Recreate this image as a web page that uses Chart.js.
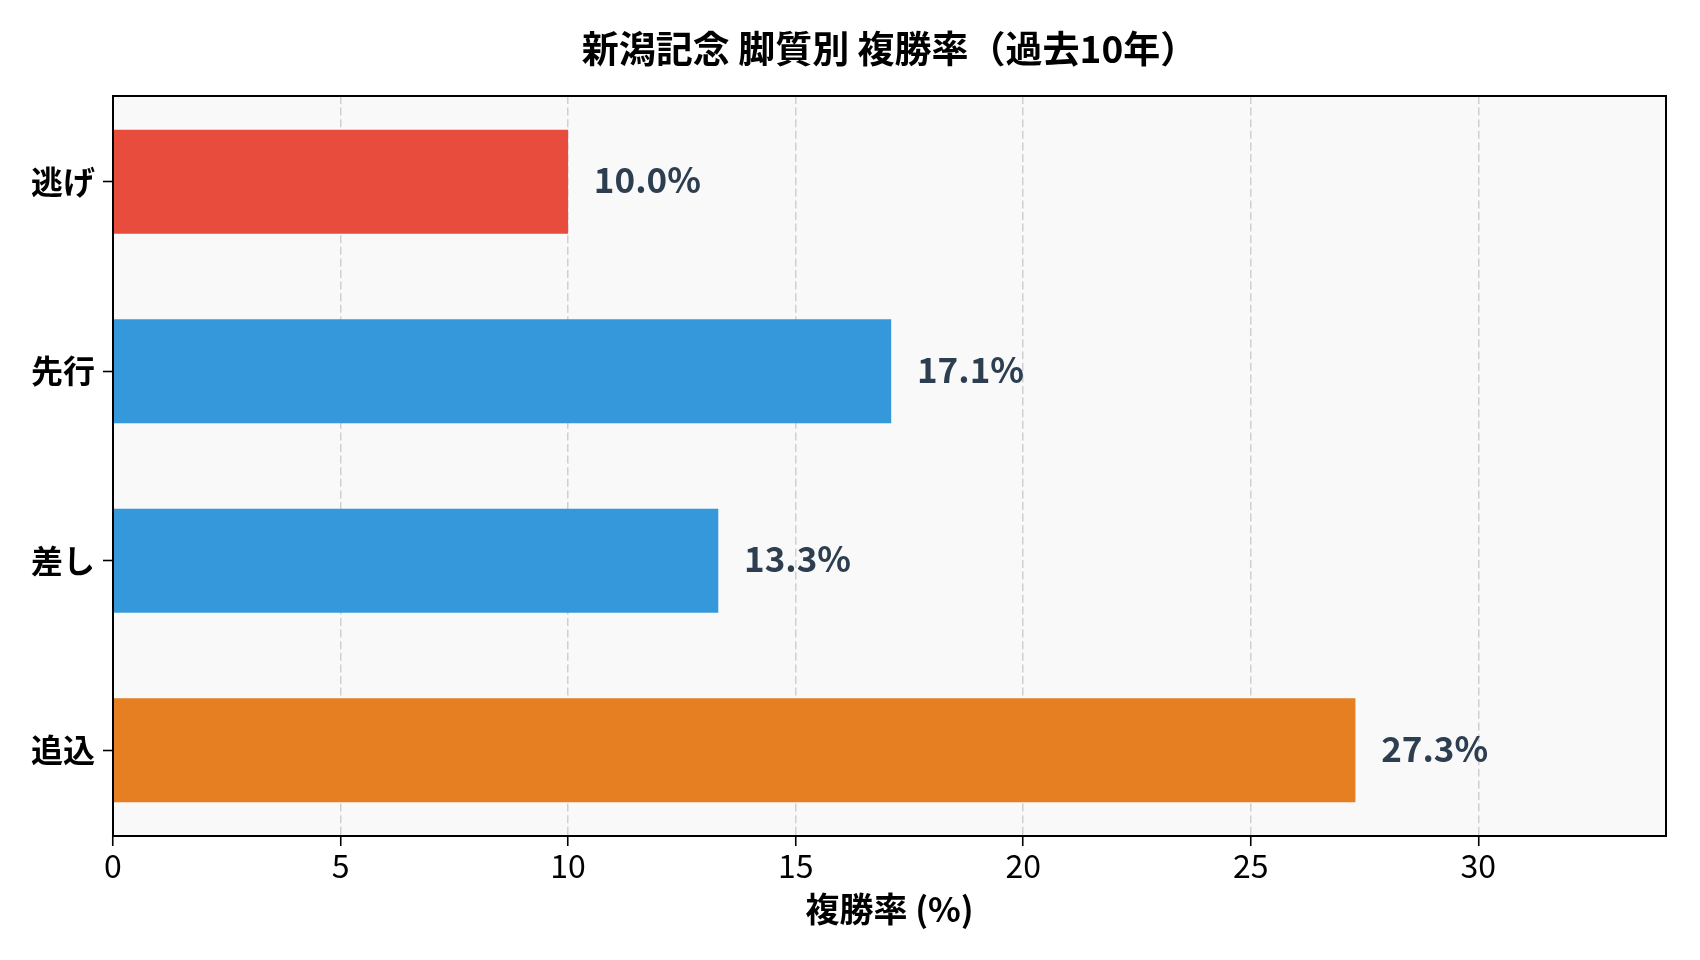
<!DOCTYPE html>
<html>
<head>
<meta charset="utf-8">
<script src="https://cdn.jsdelivr.net/npm/chart.js@4.4.1/dist/chart.umd.min.js"></script>
<style>
  html, body { margin: 0; padding: 0; background: #ffffff; }
</style>
</head>
<body>
<canvas id="rateChart" width="1700" height="960"></canvas>
<script>
// 新潟記念 脚質別 複勝率
var TITLE      = '新潟記念 脚質別 複勝率（過去10年）';
var X_LABEL    = '複勝率 (%)';
var CATEGORIES = ['逃げ', '先行', '差し', '追込'];
var RATES      = [10.0, 17.1, 13.3, 27.3];
var BAR_COLORS = ['#e74c3c', '#3498db', '#3498db', '#e67e22'];
var X_TICKS    = [0, 5, 10, 15, 20, 25, 30];
var X_MAX      = 34.125;

var FONT = "'Noto Sans CJK JP', 'Noto Sans', sans-serif";
Chart.defaults.font.family = FONT;
Chart.defaults.color = '#000000';

// plot background, frame, title and value labels
var framePlugin = {
  id: 'frame',
  beforeDraw: function (chart) {
    var a = chart.chartArea, ctx = chart.ctx;
    ctx.save();
    ctx.fillStyle = '#f9f9f9';
    ctx.fillRect(a.left, a.top, a.right - a.left, a.bottom - a.top);
    ctx.restore();
  },
  afterDatasetsDraw: function (chart) {
    var a = chart.chartArea, ctx = chart.ctx;
    var xs = chart.scales.x;
    ctx.save();
    // value labels
    ctx.font = 'bold 35px ' + FONT;
    ctx.fillStyle = '#2c3e50';
    ctx.textAlign = 'left';
    ctx.textBaseline = 'middle';
    chart.getDatasetMeta(0).data.forEach(function (bar, i) {
      ctx.fillText(RATES[i].toFixed(1) + '%', xs.getPixelForValue(RATES[i] + 0.5) + 3, bar.y - 2);
    });
    // frame
    ctx.strokeStyle = '#000000';
    ctx.lineWidth = 2;
    ctx.strokeRect(a.left, a.top, a.right - a.left, a.bottom - a.top);
    // title
    ctx.font = 'bold 37px ' + FONT;
    ctx.fillStyle = '#000000';
    ctx.textAlign = 'center';
    ctx.fillText(TITLE, (a.left + a.right) / 2, 49);
    ctx.restore();
  }
};

new Chart(document.getElementById('rateChart').getContext('2d'), {
  type: 'bar',
  data: {
    datasets: [{
      data: RATES.map(function (v, i) { return { x: v, y: i }; }),
      backgroundColor: BAR_COLORS,
      borderWidth: 0,
      barPercentage: 0.55,
      categoryPercentage: 1.0
    }]
  },
  options: {
    indexAxis: 'y',
    responsive: false,
    devicePixelRatio: 1,
    animation: false,
    layout: { padding: { top: 96, right: 34, bottom: 0, left: 0 } },
    plugins: {
      legend: { display: false },
      tooltip: { enabled: false },
      title: { display: false }
    },
    scales: {
      x: {
        type: 'linear',
        min: 0,
        max: X_MAX,
        afterBuildTicks: function (axis) {
          axis.ticks = X_TICKS.map(function (v) { return { value: v }; });
        },
        afterFit: function (scale) { scale.height = 124; },
        ticks: { font: { size: 32 }, color: '#000000', padding: 1 },
        grid: {
          color: function (c) { return c.tick && c.tick.value === 0 ? 'rgba(0,0,0,0)' : '#d0d0d0'; },
          lineWidth: 1.5,
          tickColor: '#000000',
          tickWidth: 1.6,
          tickLength: 10
        },
        border: { color: '#000000', width: 2, dash: [8, 3.6] },
        title: {
          display: true,
          text: X_LABEL,
          font: { size: 34, weight: 'bold' },
          color: '#000000',
          padding: { top: 0, bottom: 31 }
        }
      },
      y: {
        type: 'linear',
        reverse: true,
        offset: false,
        min: -0.4525,
        max: 3.4525,
        afterBuildTicks: function (axis) {
          axis.ticks = CATEGORIES.map(function (c, i) { return { value: i }; });
        },
        afterFit: function (scale) { scale.width = 113; },
        ticks: {
          font: { size: 32, weight: 'bold' },
          color: '#000000',
          padding: 8,
          callback: function (v) { return CATEGORIES[v]; }
        },
        grid: {
          offset: false,
          drawOnChartArea: false,
          tickColor: '#000000',
          tickWidth: 1.6,
          tickLength: 10
        },
        border: { color: '#000000', width: 2 }
      }
    }
  },
  plugins: [framePlugin]
});
</script>
</body>
</html>
